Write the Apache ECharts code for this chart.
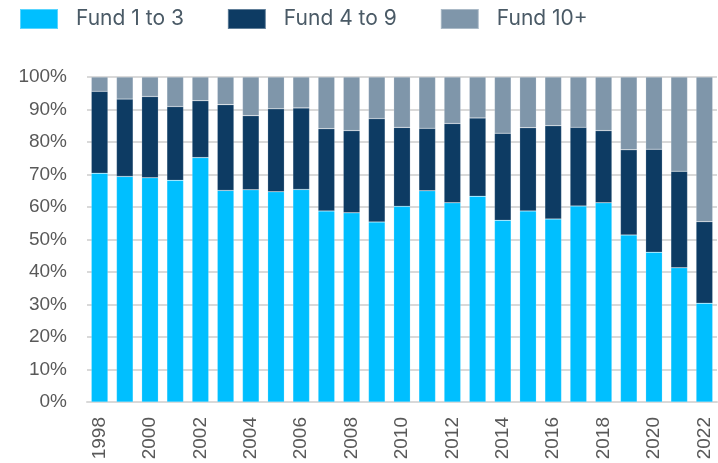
<!DOCTYPE html>
<html>
<head>
<meta charset="utf-8">
<script src="https://cdn.jsdelivr.net/npm/echarts@6/dist/echarts.min.js"></script>
<style>
  html, body { margin: 0; padding: 0; background: #fff; }
  #chart { width: 718px; height: 463px; }
</style>
</head>
<body>
<div id="chart"></div>
<script>
// years on the x axis
const years = ['1998', '1999', '2000', '2001', '2002', '2003', '2004', '2005', '2006', '2007', '2008', '2009', '2010',
  '2011', '2012', '2013', '2014', '2015', '2016', '2017', '2018', '2019', '2020', '2021', '2022']

// share of funds 1 to 3 (%)
const fund1to3 = [70.4, 69.4, 69.0, 68.2, 75.2, 65.1, 65.3, 64.7, 65.4, 58.8, 58.2, 55.4, 60.2,
  65.0, 61.3, 63.3, 55.9, 58.8, 56.3, 60.3, 61.3, 51.4, 46.1, 41.3, 30.4]

// share of funds 4 to 9 (%)
const fund4to9 = [25.2, 23.8, 25.0, 22.7, 17.5, 26.4, 22.8, 25.5, 25.1, 25.3, 25.3, 31.8, 24.3,
  19.2, 24.4, 24.1, 26.8, 25.6, 28.7, 24.2, 22.2, 26.2, 31.7, 29.7, 25.1]

// share of funds 10+ (%)
const fund10plus = [4.4, 6.8, 6.0, 9.1, 7.3, 8.5, 11.9, 9.8, 9.5, 15.9, 16.5, 12.8, 15.5,
  15.8, 14.3, 12.6, 17.3, 15.6, 15.0, 15.5, 16.5, 22.4, 22.2, 29.0, 44.5]

const colors = ['#00BFFF', '#0D3B63', '#7F96AA']
const names = ['Fund 1 to 3', 'Fund 4 to 9', 'Fund 10+']
const values = [fund1to3, fund4to9, fund10plus]

const chart = echarts.init(document.getElementById('chart'), null, { renderer: 'canvas' })

chart.setOption({
  animation: false,
  legend: {
    left: 19,
    top: 8,
    padding: 0,
    itemWidth: 38,
    itemHeight: 20,
    itemGap: 43,
    icon: 'rect',
    textStyle: {
      fontFamily: 'Inter',
      fontSize: 21,
      lineHeight: 20,
      color: '#4A5A66',
      padding: [0, 0, 0, 13]
    },
    data: names
  },
  grid: { left: 87, right: 1, top: 77, bottom: 61 },
  xAxis: {
    type: 'category',
    data: years,
    axisLine: { lineStyle: { color: '#D9D9D9', width: 2 } },
    axisTick: { show: false },
    axisLabel: {
      interval: 1,
      rotate: 90,
      margin: 15,
      fontFamily: 'Liberation Sans',
      fontSize: 19,
      color: '#595959'
    }
  },
  yAxis: {
    type: 'value',
    min: 0,
    max: 100,
    interval: 10,
    axisLine: { show: false },
    axisTick: { show: false },
    splitLine: { lineStyle: { color: '#D9D9D9', width: 2 } },
    axisLabel: {
      formatter: '{value}%',
      margin: 20,
      fontFamily: 'Liberation Sans',
      fontSize: 19,
      color: '#595959'
    }
  },
  series: names.map((name, i) => ({
    name: name,
    type: 'bar',
    stack: 'total',
    barWidth: '66%',
    itemStyle: { color: colors[i], borderColor: 'rgba(255,255,255,0.35)', borderWidth: 0.5 },
    data: values[i]
  }))
})
</script>
</body>
</html>
